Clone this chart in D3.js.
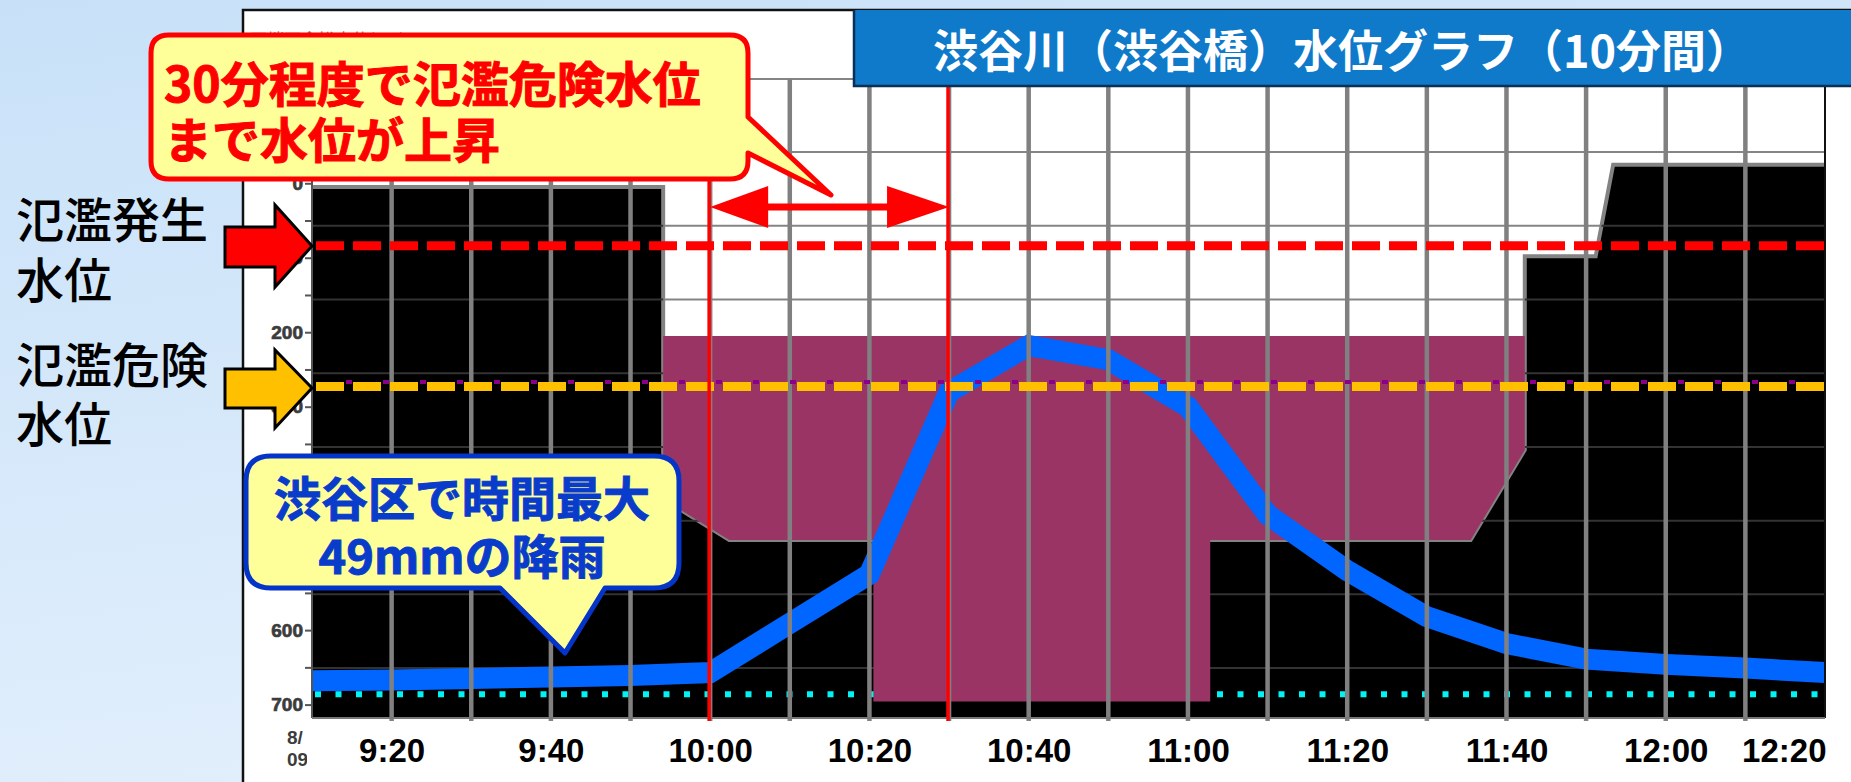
<!DOCTYPE html>
<html>
<head>
<meta charset="utf-8">
<script src="https://cdn.jsdelivr.net/npm/d3@7"></script>
<style>
  body { margin: 0; background: #d6e9fb; overflow: hidden; }
  svg { display: block; }
</style>
</head>
<body>
<script>
// water level readings (cm below bank top), every 10 minutes
const levelTimes = ["9:10", "9:20", "9:30", "9:40", "9:50", "10:00", "10:10", "10:20", "10:30", "10:40",
  "10:50", "11:00", "11:10", "11:20", "11:30", "11:40", "11:50", "12:00", "12:10", "12:20"];
const waterLevel = [668, 667, 665, 663, 661, 657, 591, 525, 280, 218,
  237, 300, 445, 520, 582, 618, 639, 646, 651, 657];

// black background band (top boundary)
const blackTimes = ["9:10:00", "9:54:06", "9:54:06", "10:02:24", "11:35:30", "11:42:18", "11:42:18", "11:51:12", "11:53:24", "12:20:00"];
const blackTop = [5, 5, 424, 479, 479, 358, 98, 98, -25, -25];

// maroon band (bottom boundary, flat top)
const maroonTimes = ["9:54:06", "10:02:24", "10:20:30", "10:20:30", "11:02:48", "11:02:48", "11:35:30", "11:42:18"];
const maroonBottom = [424, 479, 479, 696, 696, 479, 479, 358];
const maroonTop = 205;

const floodLevel = 84;      // 氾濫発生水位
const dangerLevel = 273;    // 氾濫危険水位
const purpleLevel = 267;
const cyanLevel = 686;

const gridLevels = [-140, -42, 57, 156, 255, 354, 453, 552, 651];
const yLabels = [0, 100, 200, 300, 400, 500, 600, 700];
const yMinor = [0, 50, 100, 150, 200, 250, 300, 350, 400, 450, 500, 550, 600, 650, 700];
const gridTimes = ["9:20", "9:30", "9:40", "9:50", "10:00", "10:10", "10:20", "10:30", "10:40", "10:50",
  "11:00", "11:10", "11:20", "11:30", "11:40", "11:50", "12:00", "12:10"];
const timeLabels = ["9:20", "9:40", "10:00", "10:20", "10:40", "11:00", "11:20", "11:40", "12:00", "12:20"];
const markerTimes = ["10:00", "10:30"];

const W = 1851, H = 782;
const hm = d3.timeParse("%H:%M");
const hms = d3.timeParse("%H:%M:%S");

const x = d3.scaleTime().domain([hm("9:10"), hm("12:20")]).range([312, 1825]);
const y = d3.scaleLinear().domain([-140, 718]).range([79, 718]);
const x0 = x.range()[0], x1 = x.range()[1];
const yBottom = y.range()[1];

const svg = d3.select("body").append("svg").attr("width", W).attr("height", H);
const defs = svg.append("defs");
const bg = defs.append("linearGradient").attr("id", "bg").attr("x1", 0).attr("y1", 0).attr("x2", 0.3).attr("y2", 1);
bg.append("stop").attr("offset", "0%").attr("stop-color", "#c8e1f8");
bg.append("stop").attr("offset", "100%").attr("stop-color", "#e2effc");

svg.append("rect").attr("width", W).attr("height", H).attr("fill", "url(#bg)");
// white panel
svg.append("rect").attr("x", 243).attr("y", 10).attr("width", W - 243).attr("height", H - 10).attr("fill", "#fff");
svg.append("path").attr("d", `M243,${H} V10 H${W}`).attr("fill", "none").attr("stroke", "#111").attr("stroke-width", 2.5);

// faded axis title
svg.append("text").attr("x", 250).attr("y", 46).attr("font-family", "Noto Sans CJK JP")
  .attr("font-size", 17).attr("fill", "#777").text("天端下余裕水位(cm)");

// horizontal grid (gray over white)
svg.append("g").selectAll("line").data(gridLevels).enter().append("line")
  .attr("x1", x0).attr("x2", x1).attr("y1", d => y(d)).attr("y2", d => y(d))
  .attr("stroke", "#858585").attr("stroke-width", 2);

// black band
const blackData = blackTimes.map((t, i) => ({ t: hms(t), v: blackTop[i] }));
const blackArea = d3.area().x(d => x(d.t)).y0(yBottom).y1(d => y(d.v));
defs.append("clipPath").attr("id", "blackClip").append("path").attr("d", blackArea(blackData));
svg.append("path").attr("d", blackArea(blackData)).attr("fill", "#000");
svg.append("path").attr("d", d3.line().x(d => x(d.t)).y(d => y(d.v))(blackData))
  .attr("fill", "none").attr("stroke", "#838383").attr("stroke-width", 4);

// grid seen through the black band
svg.append("g").attr("clip-path", "url(#blackClip)").selectAll("line").data(gridLevels).enter().append("line")
  .attr("x1", x0).attr("x2", x1).attr("y1", d => y(d)).attr("y2", d => y(d))
  .attr("stroke", "#333").attr("stroke-width", 2);

// cyan dotted line
svg.append("line").attr("x1", x0 + 3).attr("x2", x1).attr("y1", y(cyanLevel)).attr("y2", y(cyanLevel))
  .attr("stroke", "#00f4f4").attr("stroke-width", 6).attr("stroke-dasharray", "6,14.5");

// maroon band
const maroonData = maroonTimes.map((t, i) => ({ t: hms(t), v: maroonBottom[i] }));
svg.append("path")
  .attr("d", d3.area().x(d => x(d.t)).y0(d => y(d.v)).y1(y(maroonTop))(maroonData))
  .attr("fill", "#993464");

// water level line
const levelData = levelTimes.map((t, i) => ({ t: hm(t), v: waterLevel[i] }));
svg.append("path").attr("d", d3.line().x(d => x(d.t)).y(d => y(d.v))(levelData))
  .attr("fill", "none").attr("stroke", "#0066ff").attr("stroke-width", 21)
  .attr("stroke-linejoin", "miter").attr("stroke-linecap", "butt");

// vertical grid
svg.append("g").selectAll("line").data(gridTimes).enter().append("line")
  .attr("x1", d => x(hm(d))).attr("x2", d => x(hm(d))).attr("y1", y(-140)).attr("y2", yBottom + 3)
  .attr("stroke", "#808080").attr("stroke-width", 4.5);

// reference lines
svg.append("line").attr("x1", x0 + 4).attr("x2", x1).attr("y1", y(purpleLevel)).attr("y2", y(purpleLevel))
  .attr("stroke", "#8a008a").attr("stroke-width", 4).attr("stroke-dasharray", "6,31").attr("stroke-dashoffset", -30);
svg.append("line").attr("x1", x0 + 4).attr("x2", x1).attr("y1", y(floodLevel)).attr("y2", y(floodLevel))
  .attr("stroke", "#ff0000").attr("stroke-width", 9).attr("stroke-dasharray", "28,9");
svg.append("line").attr("x1", x0 + 4).attr("x2", x1).attr("y1", y(dangerLevel)).attr("y2", y(dangerLevel))
  .attr("stroke", "#ffc000").attr("stroke-width", 9).attr("stroke-dasharray", "28,9");

// axes
svg.append("line").attr("x1", x0).attr("x2", x0).attr("y1", y(-140)).attr("y2", yBottom).attr("stroke", "#555").attr("stroke-width", 2);
svg.append("line").attr("x1", x1).attr("x2", x1).attr("y1", y(-140)).attr("y2", yBottom).attr("stroke", "#111").attr("stroke-width", 2);
svg.append("line").attr("x1", x0).attr("x2", x1).attr("y1", yBottom).attr("y2", yBottom).attr("stroke", "#777").attr("stroke-width", 2);

const yMinorAxis = svg.append("g").attr("transform", `translate(${x0},0)`)
  .call(d3.axisLeft(y).tickValues(yMinor).tickSize(7).tickFormat(""));
yMinorAxis.select(".domain").remove();
yMinorAxis.selectAll("line").attr("stroke", "#555").attr("stroke-width", 2);

const yAxis = svg.append("g").attr("transform", `translate(${x0},0)`)
  .call(d3.axisLeft(y).tickValues(yLabels).tickSize(0).tickPadding(9));
yAxis.select(".domain").remove();
yAxis.selectAll("text").attr("font-family", "Liberation Sans").attr("font-weight", "bold")
  .attr("font-size", 19).attr("fill", "#3c3c3c").attr("stroke", "#3c3c3c").attr("stroke-width", 0.7);

const xAxis = svg.append("g").attr("transform", `translate(0,${yBottom})`)
  .call(d3.axisBottom(x).tickValues(timeLabels.map(hm)).tickSize(0).tickPadding(0).tickFormat(d3.timeFormat("%-H:%M")));
xAxis.select(".domain").remove();
xAxis.selectAll("text").attr("font-family", "Liberation Sans").attr("font-weight", "bold")
  .attr("font-size", 33).attr("fill", "#000").attr("dy", null).attr("y", 44);
xAxis.selectAll(".tick").filter(d => +d === +hm("12:20")).select("text")
  .attr("text-anchor", "end").attr("x", 1);

// date stub
defs.append("clipPath").attr("id", "dateClip").append("rect").attr("x", 270).attr("y", 720).attr("width", 37).attr("height", 60);
const dateG = svg.append("g").attr("clip-path", "url(#dateClip)").attr("font-family", "Liberation Sans")
  .attr("font-weight", "bold").attr("font-size", 19).attr("fill", "#3c3c3c");
dateG.append("text").attr("x", 287).attr("y", 744).text("8/");
dateG.append("text").attr("x", 287).attr("y", 766).text("09");

// red markers
svg.append("g").selectAll("line").data(markerTimes).enter().append("line")
  .attr("x1", d => x(hm(d)) - 1).attr("x2", d => x(hm(d)) - 1).attr("y1", y(-140)).attr("y2", yBottom + 3)
  .attr("stroke", "#ff0000").attr("stroke-width", 3.5);

// double arrow between markers
const ax1 = x(hm(markerTimes[0])), ax2 = x(hm(markerTimes[1])), ay = 207;
svg.append("path")
  .attr("d", `M${ax1},${ay} L${ax1 + 58},${ay - 21} L${ax1 + 58},${ay - 3.5} L${ax2 - 62},${ay - 3.5} L${ax2 - 62},${ay - 21} L${ax2},${ay} L${ax2 - 62},${ay + 21} L${ax2 - 62},${ay + 3.5} L${ax1 + 58},${ay + 3.5} L${ax1 + 58},${ay + 21} Z`)
  .attr("fill", "#ff0000");

// left arrows
svg.append("path").attr("d", "M225,227 H275 V205 L312,246 L275,287 V267 H225 Z")
  .attr("fill", "#ff0000").attr("stroke", "#000").attr("stroke-width", 3).attr("stroke-linejoin", "miter");
svg.append("path").attr("d", "M225,369 H275 V350 L312,388 L275,428 V408 H225 Z")
  .attr("fill", "#ffc000").attr("stroke", "#000").attr("stroke-width", 3).attr("stroke-linejoin", "miter");

const leftText = svg.append("g").attr("font-family", "Noto Sans CJK JP").attr("font-weight", 500)
  .attr("font-size", 48).attr("fill", "#000").attr("dominant-baseline", "central");
leftText.append("text").attr("x", 16).attr("y", 217).text("氾濫発生");
leftText.append("text").attr("x", 16).attr("y", 277).text("水位");
leftText.append("text").attr("x", 16).attr("y", 362).text("氾濫危険");
leftText.append("text").attr("x", 16).attr("y", 421).text("水位");

// red callout
svg.append("path")
  .attr("d", "M169,35 H730 Q748,35 748,53 V117 L831,195 L748,153 V161 Q748,179 730,179 H169 Q151,179 151,161 V53 Q151,35 169,35 Z")
  .attr("fill", "#ffff99").attr("stroke", "#ff0000").attr("stroke-width", 5).attr("stroke-linejoin", "round");
const redText = svg.append("g").attr("font-family", "Noto Sans CJK JP").attr("font-weight", 700)
  .attr("font-size", 48).attr("fill", "#ff0000").attr("stroke", "#ff0000").attr("stroke-width", 1)
  .attr("dominant-baseline", "central");
redText.append("text").attr("x", 164).attr("y", 81).text("30分程度で氾濫危険水位");
redText.append("text").attr("x", 164).attr("y", 137).text("まで水位が上昇");

// blue callout
svg.append("path")
  .attr("d", "M271,456 H654 Q679,456 679,481 V563 Q679,588 654,588 H605 L565,653 L500,588 H271 Q246,588 246,563 V481 Q246,456 271,456 Z")
  .attr("fill", "#ffff99").attr("stroke", "#0534c8").attr("stroke-width", 5).attr("stroke-linejoin", "round");
const blueText = svg.append("g").attr("font-family", "Noto Sans CJK JP").attr("font-weight", 700)
  .attr("font-size", 47).attr("fill", "#0a3ccc").attr("stroke", "#0a3ccc").attr("stroke-width", 1)
  .attr("text-anchor", "middle").attr("dominant-baseline", "central");
blueText.append("text").attr("x", 462).attr("y", 495).text("渋谷区で時間最大");
blueText.append("text").attr("x", 462).attr("y", 553).text("49mmの降雨");

// title box
svg.append("rect").attr("x", 853).attr("y", 10).attr("width", W - 853).attr("height", 77).attr("fill", "#0f79ca");
svg.append("path").attr("d", `M854,10 V86 H${W}`).attr("fill", "none").attr("stroke", "#0b2f55").attr("stroke-width", 2.5);
svg.append("text").attr("x", 1342).attr("y", 48).attr("text-anchor", "middle").attr("dominant-baseline", "central")
  .attr("font-family", "Noto Sans CJK JP").attr("font-weight", 700).attr("font-size", 45).attr("fill", "#fff")
  .text("渋谷川（渋谷橋）水位グラフ（10分間）");
</script>
</body>
</html>
